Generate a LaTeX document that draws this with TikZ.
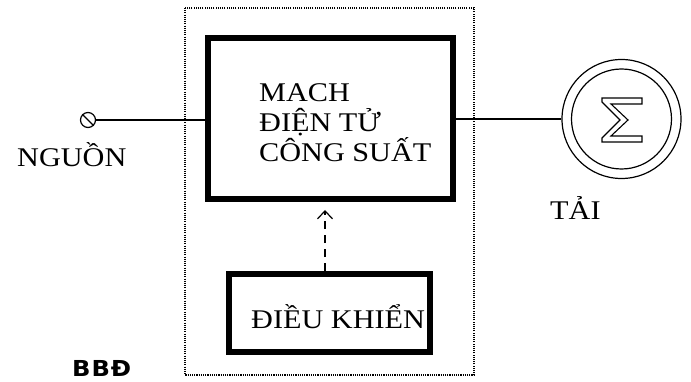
\documentclass[tikz,border=0pt]{standalone}
\usepackage{fontspec}
\setmainfont[FakeStretch=1.12]{Liberation Serif}
\newfontfamily\labelbold[FakeStretch=1.1,LetterSpace=4]{DejaVu Sans}
\usetikzlibrary{arrows.meta}
\begin{document}
\begin{tikzpicture}[x=1pt,y=-1pt,
  thin line/.style={line width=1.2pt},
  heavy box/.style={draw,line width=5.5pt,inner sep=0pt},
  dotted frame/.style={line width=1.3pt,dash pattern=on 1.1pt off 1.1pt},
  caption/.style={font=\fontsize{27}{30}\selectfont,inner sep=0pt,anchor=base west},
  ]
\useasboundingbox (0,0) rectangle (691,382);
\fill[white] (0,0) rectangle (691,382);

% converter enclosure
\draw[dotted frame] (185,8) rectangle (474,375);

% power stage
\node[heavy box,minimum width=245pt,minimum height=161pt] (mach) at (330.5,118.5) {};
\node[caption] (line1) at (259,102) {MACH};
\node[caption] (line2) at (259,132) {ĐIỆN TỬ};
\node[caption] (line3) at (259,162) {CÔNG SUẤT};

% controller
\node[heavy box,minimum width=201pt,minimum height=78pt] (dk) at (329.5,313) {};
\node[caption] (dktext) at (251,328) {ĐIỀU KHIỂN};

% control signal
\draw[thin line,dash pattern=on 8pt off 6pt,-{Straight Barb[length=8pt,width=15pt,line width=1.2pt]}]
  (dk.north -| 325,0) -- (325,210) coordinate (tip);

% source terminal
\node[draw,thin line,circle,minimum size=15pt,inner sep=0pt] (src) at (88,120) {};
\draw[thin line] (src.north west) -- (src.south east);
\draw[thin line] (src.east) -- (mach.west |- src.east);
\node[caption] (nguon) at (17,167) {NGUỒN};

% load
\node[draw,thin line,circle,minimum size=119pt,inner sep=0pt] (load) at (621.5,119) {};
\node[draw,thin line,circle,minimum size=100pt,inner sep=0pt] (loadin) at (621.5,119) {};
\draw[thin line] (mach.east |- load.west) -- (load.west);
\draw[line width=1.1pt,line join=miter]
  (602,98) -- (642,98) -- (642,104) -- (611,104) -- (628,120) -- (611,136)
  -- (642,136) -- (642,142) -- (602,142) -- (602,138) -- (620,120) -- (602,102) -- cycle;
\node[caption] (tai) at (550,220) {TẢI};

% caption
\node[inner sep=0pt,anchor=base west,font=\labelbold\bfseries\fontsize{22}{26}\selectfont] (bbd) at (72,376) {BBĐ};
\end{tikzpicture}
\end{document}
